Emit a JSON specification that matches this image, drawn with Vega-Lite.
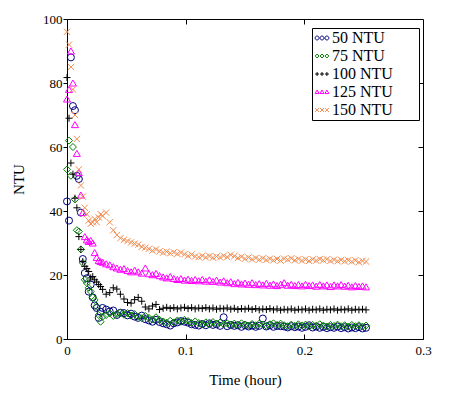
{
  "$schema": "https://vega.github.io/schema/vega-lite/v6.json",
  "width": 356,
  "height": 320,
  "autosize": {"type": "none"},
  "padding": {"left": 67, "top": 19, "right": 53, "bottom": 80},
  "background": "white",
  "data": {"values": [
    {"s":"50 NTU","t":0,"v":43},{"s":"50 NTU","t":0.0017,"v":37},{"s":"50 NTU","t":0.0033,"v":88},{"s":"50 NTU","t":0.005,"v":72.8},{"s":"50 NTU","t":0.0067,"v":71.5},{"s":"50 NTU","t":0.0083,"v":51},{"s":"50 NTU","t":0.01,"v":50},{"s":"50 NTU","t":0.0117,"v":39.5},{"s":"50 NTU","t":0.0133,"v":25},{"s":"50 NTU","t":0.015,"v":20.6},{"s":"50 NTU","t":0.0167,"v":19},{"s":"50 NTU","t":0.0183,"v":14.8},{"s":"50 NTU","t":0.02,"v":17},{"s":"50 NTU","t":0.0217,"v":13},{"s":"50 NTU","t":0.0233,"v":10.5},{"s":"50 NTU","t":0.025,"v":9.7},{"s":"50 NTU","t":0.0267,"v":6.6},{"s":"50 NTU","t":0.0283,"v":8.5},{"s":"50 NTU","t":0.03,"v":9.7},
    {"s":"50 NTU","t":0.033,"v":9.2},{"s":"50 NTU","t":0.036,"v":8.6},{"s":"50 NTU","t":0.039,"v":8.9},{"s":"50 NTU","t":0.042,"v":7.5},{"s":"50 NTU","t":0.045,"v":8.2},{"s":"50 NTU","t":0.048,"v":8.1},{"s":"50 NTU","t":0.051,"v":7.4},{"s":"50 NTU","t":0.054,"v":7.9},{"s":"50 NTU","t":0.057,"v":7},{"s":"50 NTU","t":0.06,"v":6.6},{"s":"50 NTU","t":0.063,"v":7.3},{"s":"50 NTU","t":0.066,"v":6.2},{"s":"50 NTU","t":0.069,"v":5.8},{"s":"50 NTU","t":0.072,"v":5.4},{"s":"50 NTU","t":0.075,"v":6},{"s":"50 NTU","t":0.078,"v":5.3},{"s":"50 NTU","t":0.081,"v":4.9},{"s":"50 NTU","t":0.084,"v":4.6},{"s":"50 NTU","t":0.087,"v":4.2},{"s":"50 NTU","t":0.09,"v":4.9},{"s":"50 NTU","t":0.093,"v":5.2},{"s":"50 NTU","t":0.096,"v":5.6},{"s":"50 NTU","t":0.099,"v":5.4},{"s":"50 NTU","t":0.102,"v":5.1},{"s":"50 NTU","t":0.105,"v":4.6},{"s":"50 NTU","t":0.108,"v":4.4},{"s":"50 NTU","t":0.111,"v":4.2},{"s":"50 NTU","t":0.114,"v":4.7},{"s":"50 NTU","t":0.117,"v":4.3},{"s":"50 NTU","t":0.12,"v":4.9},{"s":"50 NTU","t":0.123,"v":4.4},{"s":"50 NTU","t":0.126,"v":4.6},{"s":"50 NTU","t":0.129,"v":4.1},{"s":"50 NTU","t":0.132,"v":6.8},{"s":"50 NTU","t":0.135,"v":4},{"s":"50 NTU","t":0.138,"v":4.4},{"s":"50 NTU","t":0.141,"v":4.1},{"s":"50 NTU","t":0.144,"v":4.3},{"s":"50 NTU","t":0.147,"v":3.8},{"s":"50 NTU","t":0.15,"v":4.3},{"s":"50 NTU","t":0.153,"v":3.9},{"s":"50 NTU","t":0.156,"v":4.2},{"s":"50 NTU","t":0.159,"v":3.8},{"s":"50 NTU","t":0.162,"v":4.1},{"s":"50 NTU","t":0.165,"v":6.4},{"s":"50 NTU","t":0.168,"v":3.9},{"s":"50 NTU","t":0.171,"v":4.3},{"s":"50 NTU","t":0.174,"v":3.8},{"s":"50 NTU","t":0.177,"v":4.1},{"s":"50 NTU","t":0.18,"v":4},{"s":"50 NTU","t":0.183,"v":3.9},{"s":"50 NTU","t":0.186,"v":3.6},{"s":"50 NTU","t":0.189,"v":4},{"s":"50 NTU","t":0.192,"v":3.7},{"s":"50 NTU","t":0.195,"v":3.9},{"s":"50 NTU","t":0.198,"v":3.5},{"s":"50 NTU","t":0.201,"v":3.8},{"s":"50 NTU","t":0.204,"v":4.3},{"s":"50 NTU","t":0.207,"v":3.6},{"s":"50 NTU","t":0.21,"v":3.9},{"s":"50 NTU","t":0.213,"v":3.5},{"s":"50 NTU","t":0.216,"v":3.8},{"s":"50 NTU","t":0.219,"v":3.4},{"s":"50 NTU","t":0.222,"v":3.7},{"s":"50 NTU","t":0.225,"v":3.5},{"s":"50 NTU","t":0.228,"v":3.9},{"s":"50 NTU","t":0.231,"v":3.4},{"s":"50 NTU","t":0.234,"v":3.7},{"s":"50 NTU","t":0.237,"v":3.3},{"s":"50 NTU","t":0.24,"v":3.6},{"s":"50 NTU","t":0.243,"v":3.4},{"s":"50 NTU","t":0.246,"v":3.7},{"s":"50 NTU","t":0.249,"v":3.3},{"s":"50 NTU","t":0.252,"v":3.5},
    {"s":"75 NTU","t":0,"v":53},{"s":"75 NTU","t":0.0017,"v":62},{"s":"75 NTU","t":0.0033,"v":51},{"s":"75 NTU","t":0.005,"v":60},{"s":"75 NTU","t":0.0067,"v":43.6},{"s":"75 NTU","t":0.0083,"v":34},{"s":"75 NTU","t":0.01,"v":33.6},{"s":"75 NTU","t":0.0117,"v":28},{"s":"75 NTU","t":0.0133,"v":23.8},{"s":"75 NTU","t":0.015,"v":18.5},{"s":"75 NTU","t":0.0167,"v":17.5},{"s":"75 NTU","t":0.0183,"v":16},{"s":"75 NTU","t":0.02,"v":14.8},{"s":"75 NTU","t":0.0217,"v":13},{"s":"75 NTU","t":0.0233,"v":12.2},{"s":"75 NTU","t":0.025,"v":10.1},{"s":"75 NTU","t":0.0267,"v":7.5},{"s":"75 NTU","t":0.0283,"v":5.4},{"s":"75 NTU","t":0.03,"v":7},
    {"s":"75 NTU","t":0.033,"v":7.5},{"s":"75 NTU","t":0.036,"v":8},{"s":"75 NTU","t":0.039,"v":7.2},{"s":"75 NTU","t":0.042,"v":7.8},{"s":"75 NTU","t":0.045,"v":8.3},{"s":"75 NTU","t":0.048,"v":7.6},{"s":"75 NTU","t":0.051,"v":8.1},{"s":"75 NTU","t":0.054,"v":7.3},{"s":"75 NTU","t":0.057,"v":7.8},{"s":"75 NTU","t":0.06,"v":7},{"s":"75 NTU","t":0.063,"v":6.5},{"s":"75 NTU","t":0.066,"v":7.2},{"s":"75 NTU","t":0.069,"v":6.6},{"s":"75 NTU","t":0.072,"v":6.1},{"s":"75 NTU","t":0.075,"v":6.8},{"s":"75 NTU","t":0.078,"v":6},{"s":"75 NTU","t":0.081,"v":5.5},{"s":"75 NTU","t":0.084,"v":5.1},{"s":"75 NTU","t":0.087,"v":5.7},{"s":"75 NTU","t":0.09,"v":5.2},{"s":"75 NTU","t":0.093,"v":5.8},{"s":"75 NTU","t":0.096,"v":5.4},{"s":"75 NTU","t":0.099,"v":6},{"s":"75 NTU","t":0.102,"v":5.6},{"s":"75 NTU","t":0.105,"v":5},{"s":"75 NTU","t":0.108,"v":5.5},{"s":"75 NTU","t":0.111,"v":5},{"s":"75 NTU","t":0.114,"v":4.6},{"s":"75 NTU","t":0.117,"v":5.2},{"s":"75 NTU","t":0.12,"v":4.7},{"s":"75 NTU","t":0.123,"v":5.3},{"s":"75 NTU","t":0.126,"v":4.8},{"s":"75 NTU","t":0.129,"v":5.2},{"s":"75 NTU","t":0.132,"v":4.6},{"s":"75 NTU","t":0.135,"v":4.9},{"s":"75 NTU","t":0.138,"v":4.4},{"s":"75 NTU","t":0.141,"v":4.8},{"s":"75 NTU","t":0.144,"v":4.4},{"s":"75 NTU","t":0.147,"v":4.9},{"s":"75 NTU","t":0.15,"v":4.5},{"s":"75 NTU","t":0.153,"v":4.2},{"s":"75 NTU","t":0.156,"v":4.7},{"s":"75 NTU","t":0.159,"v":4.3},{"s":"75 NTU","t":0.162,"v":4.8},{"s":"75 NTU","t":0.165,"v":4.5},{"s":"75 NTU","t":0.168,"v":4.1},{"s":"75 NTU","t":0.171,"v":4.6},{"s":"75 NTU","t":0.174,"v":4.9},{"s":"75 NTU","t":0.177,"v":4.4},{"s":"75 NTU","t":0.18,"v":4.8},{"s":"75 NTU","t":0.183,"v":4.3},{"s":"75 NTU","t":0.186,"v":4},{"s":"75 NTU","t":0.189,"v":4.5},{"s":"75 NTU","t":0.192,"v":4.1},{"s":"75 NTU","t":0.195,"v":4.6},{"s":"75 NTU","t":0.198,"v":4.2},{"s":"75 NTU","t":0.201,"v":4.5},{"s":"75 NTU","t":0.204,"v":4},{"s":"75 NTU","t":0.207,"v":4.4},{"s":"75 NTU","t":0.21,"v":4.1},{"s":"75 NTU","t":0.213,"v":4.6},{"s":"75 NTU","t":0.216,"v":4.2},{"s":"75 NTU","t":0.219,"v":3.9},{"s":"75 NTU","t":0.222,"v":4.4},{"s":"75 NTU","t":0.225,"v":4.1},{"s":"75 NTU","t":0.228,"v":4.5},{"s":"75 NTU","t":0.231,"v":4},{"s":"75 NTU","t":0.234,"v":4.3},{"s":"75 NTU","t":0.237,"v":3.9},{"s":"75 NTU","t":0.24,"v":4.4},{"s":"75 NTU","t":0.243,"v":4},{"s":"75 NTU","t":0.246,"v":4.3},{"s":"75 NTU","t":0.249,"v":3.9},{"s":"75 NTU","t":0.252,"v":4.2},
    {"s":"100 NTU","t":0,"v":81.7},{"s":"100 NTU","t":0.0017,"v":69},{"s":"100 NTU","t":0.0033,"v":55},{"s":"100 NTU","t":0.005,"v":51.5},{"s":"100 NTU","t":0.0067,"v":44},{"s":"100 NTU","t":0.0083,"v":41},{"s":"100 NTU","t":0.01,"v":32},{"s":"100 NTU","t":0.0117,"v":28},{"s":"100 NTU","t":0.0133,"v":24.2},{"s":"100 NTU","t":0.015,"v":22.7},{"s":"100 NTU","t":0.0167,"v":22},{"s":"100 NTU","t":0.0183,"v":21.1},{"s":"100 NTU","t":0.02,"v":19.1},{"s":"100 NTU","t":0.0217,"v":19.5},{"s":"100 NTU","t":0.0233,"v":18.5},{"s":"100 NTU","t":0.025,"v":17.8},{"s":"100 NTU","t":0.0267,"v":17},{"s":"100 NTU","t":0.0283,"v":16.4},{"s":"100 NTU","t":0.03,"v":15.5},
    {"s":"100 NTU","t":0.033,"v":14},{"s":"100 NTU","t":0.036,"v":14.5},{"s":"100 NTU","t":0.039,"v":16},{"s":"100 NTU","t":0.042,"v":15.6},{"s":"100 NTU","t":0.045,"v":14},{"s":"100 NTU","t":0.048,"v":12.5},{"s":"100 NTU","t":0.051,"v":11.4},{"s":"100 NTU","t":0.054,"v":11.2},{"s":"100 NTU","t":0.057,"v":12.3},{"s":"100 NTU","t":0.06,"v":13},{"s":"100 NTU","t":0.063,"v":11.8},{"s":"100 NTU","t":0.066,"v":10},{"s":"100 NTU","t":0.069,"v":9.4},{"s":"100 NTU","t":0.072,"v":10.3},{"s":"100 NTU","t":0.075,"v":10.8},{"s":"100 NTU","t":0.078,"v":9.2},{"s":"100 NTU","t":0.081,"v":9.6},{"s":"100 NTU","t":0.084,"v":9.9},{"s":"100 NTU","t":0.087,"v":9.5},{"s":"100 NTU","t":0.09,"v":9.8},{"s":"100 NTU","t":0.093,"v":9.4},{"s":"100 NTU","t":0.096,"v":9.7},{"s":"100 NTU","t":0.099,"v":9.9},{"s":"100 NTU","t":0.102,"v":9.5},{"s":"100 NTU","t":0.105,"v":9.8},{"s":"100 NTU","t":0.108,"v":9.4},{"s":"100 NTU","t":0.111,"v":9.7},{"s":"100 NTU","t":0.114,"v":9.5},{"s":"100 NTU","t":0.117,"v":9.8},{"s":"100 NTU","t":0.12,"v":9.4},{"s":"100 NTU","t":0.123,"v":9.7},{"s":"100 NTU","t":0.126,"v":9.3},{"s":"100 NTU","t":0.129,"v":9.6},{"s":"100 NTU","t":0.132,"v":9.4},{"s":"100 NTU","t":0.135,"v":9.7},{"s":"100 NTU","t":0.138,"v":9.3},{"s":"100 NTU","t":0.141,"v":9.6},{"s":"100 NTU","t":0.144,"v":9.2},{"s":"100 NTU","t":0.147,"v":9.5},{"s":"100 NTU","t":0.15,"v":9.3},{"s":"100 NTU","t":0.153,"v":9.6},{"s":"100 NTU","t":0.156,"v":9.2},{"s":"100 NTU","t":0.159,"v":9.5},{"s":"100 NTU","t":0.162,"v":9.1},{"s":"100 NTU","t":0.165,"v":9.4},{"s":"100 NTU","t":0.168,"v":9.2},{"s":"100 NTU","t":0.171,"v":9.5},{"s":"100 NTU","t":0.174,"v":9.1},{"s":"100 NTU","t":0.177,"v":9.4},{"s":"100 NTU","t":0.18,"v":9},{"s":"100 NTU","t":0.183,"v":9.3},{"s":"100 NTU","t":0.186,"v":9.1},{"s":"100 NTU","t":0.189,"v":9.4},{"s":"100 NTU","t":0.192,"v":9},{"s":"100 NTU","t":0.195,"v":9.3},{"s":"100 NTU","t":0.198,"v":9.1},{"s":"100 NTU","t":0.201,"v":9.4},{"s":"100 NTU","t":0.204,"v":9},{"s":"100 NTU","t":0.207,"v":9.3},{"s":"100 NTU","t":0.21,"v":9.1},{"s":"100 NTU","t":0.213,"v":9.4},{"s":"100 NTU","t":0.216,"v":9},{"s":"100 NTU","t":0.219,"v":9.3},{"s":"100 NTU","t":0.222,"v":9.1},{"s":"100 NTU","t":0.225,"v":9.4},{"s":"100 NTU","t":0.228,"v":9},{"s":"100 NTU","t":0.231,"v":9.3},{"s":"100 NTU","t":0.234,"v":9.1},{"s":"100 NTU","t":0.237,"v":9.4},{"s":"100 NTU","t":0.24,"v":9},{"s":"100 NTU","t":0.243,"v":9.3},{"s":"100 NTU","t":0.246,"v":9.1},{"s":"100 NTU","t":0.249,"v":9.3},{"s":"100 NTU","t":0.252,"v":9.1},
    {"s":"125 NTU","t":0,"v":75},{"s":"125 NTU","t":0.0017,"v":78},{"s":"125 NTU","t":0.0033,"v":90},{"s":"125 NTU","t":0.005,"v":80},{"s":"125 NTU","t":0.0067,"v":67},{"s":"125 NTU","t":0.0083,"v":58},{"s":"125 NTU","t":0.01,"v":52},{"s":"125 NTU","t":0.0117,"v":45},{"s":"125 NTU","t":0.0133,"v":39.5},{"s":"125 NTU","t":0.015,"v":32},{"s":"125 NTU","t":0.0167,"v":31},{"s":"125 NTU","t":0.0183,"v":30.5},{"s":"125 NTU","t":0.02,"v":30.8},{"s":"125 NTU","t":0.0217,"v":30},{"s":"125 NTU","t":0.0233,"v":27},{"s":"125 NTU","t":0.025,"v":25.5},{"s":"125 NTU","t":0.0267,"v":24.5},{"s":"125 NTU","t":0.0283,"v":24.2},{"s":"125 NTU","t":0.03,"v":24},
    {"s":"125 NTU","t":0.033,"v":23.5},{"s":"125 NTU","t":0.036,"v":23.2},{"s":"125 NTU","t":0.039,"v":22.6},{"s":"125 NTU","t":0.042,"v":22.2},{"s":"125 NTU","t":0.045,"v":21.8},{"s":"125 NTU","t":0.048,"v":22},{"s":"125 NTU","t":0.051,"v":21.4},{"s":"125 NTU","t":0.054,"v":21},{"s":"125 NTU","t":0.057,"v":21.5},{"s":"125 NTU","t":0.06,"v":21},{"s":"125 NTU","t":0.063,"v":20.6},{"s":"125 NTU","t":0.066,"v":22.2},{"s":"125 NTU","t":0.069,"v":20.4},{"s":"125 NTU","t":0.072,"v":20.1},{"s":"125 NTU","t":0.075,"v":20.5},{"s":"125 NTU","t":0.078,"v":19.8},{"s":"125 NTU","t":0.081,"v":19.4},{"s":"125 NTU","t":0.084,"v":19.1},{"s":"125 NTU","t":0.087,"v":19.5},{"s":"125 NTU","t":0.09,"v":18.9},{"s":"125 NTU","t":0.093,"v":18.6},{"s":"125 NTU","t":0.096,"v":18.9},{"s":"125 NTU","t":0.099,"v":18.4},{"s":"125 NTU","t":0.102,"v":18.7},{"s":"125 NTU","t":0.105,"v":18.3},{"s":"125 NTU","t":0.108,"v":18.6},{"s":"125 NTU","t":0.111,"v":18.2},{"s":"125 NTU","t":0.114,"v":18.6},{"s":"125 NTU","t":0.117,"v":18.1},{"s":"125 NTU","t":0.12,"v":18.5},{"s":"125 NTU","t":0.123,"v":18},{"s":"125 NTU","t":0.126,"v":18.4},{"s":"125 NTU","t":0.129,"v":17.8},{"s":"125 NTU","t":0.132,"v":18.2},{"s":"125 NTU","t":0.135,"v":17.6},{"s":"125 NTU","t":0.138,"v":17.9},{"s":"125 NTU","t":0.141,"v":17.3},{"s":"125 NTU","t":0.144,"v":17.7},{"s":"125 NTU","t":0.147,"v":17.2},{"s":"125 NTU","t":0.15,"v":17.5},{"s":"125 NTU","t":0.153,"v":17.1},{"s":"125 NTU","t":0.156,"v":17.6},{"s":"125 NTU","t":0.159,"v":17},{"s":"125 NTU","t":0.162,"v":17.3},{"s":"125 NTU","t":0.165,"v":16.9},{"s":"125 NTU","t":0.168,"v":17.4},{"s":"125 NTU","t":0.171,"v":16.8},{"s":"125 NTU","t":0.174,"v":17.2},{"s":"125 NTU","t":0.177,"v":16.7},{"s":"125 NTU","t":0.18,"v":17.1},{"s":"125 NTU","t":0.183,"v":17.6},{"s":"125 NTU","t":0.186,"v":16.8},{"s":"125 NTU","t":0.189,"v":17.1},{"s":"125 NTU","t":0.192,"v":16.7},{"s":"125 NTU","t":0.195,"v":17},{"s":"125 NTU","t":0.198,"v":16.6},{"s":"125 NTU","t":0.201,"v":17.1},{"s":"125 NTU","t":0.204,"v":16.7},{"s":"125 NTU","t":0.207,"v":16.9},{"s":"125 NTU","t":0.21,"v":16.5},{"s":"125 NTU","t":0.213,"v":17},{"s":"125 NTU","t":0.216,"v":16.6},{"s":"125 NTU","t":0.219,"v":16.9},{"s":"125 NTU","t":0.222,"v":16.4},{"s":"125 NTU","t":0.225,"v":16.9},{"s":"125 NTU","t":0.228,"v":16.6},{"s":"125 NTU","t":0.231,"v":17},{"s":"125 NTU","t":0.234,"v":16.5},{"s":"125 NTU","t":0.237,"v":16.8},{"s":"125 NTU","t":0.24,"v":16.3},{"s":"125 NTU","t":0.243,"v":16.7},{"s":"125 NTU","t":0.246,"v":16.4},{"s":"125 NTU","t":0.249,"v":16.6},{"s":"125 NTU","t":0.252,"v":16.3},
    {"s":"150 NTU","t":0,"v":96},{"s":"150 NTU","t":0.0017,"v":92},{"s":"150 NTU","t":0.0033,"v":85},{"s":"150 NTU","t":0.005,"v":78},{"s":"150 NTU","t":0.0067,"v":70},{"s":"150 NTU","t":0.0083,"v":62.5},{"s":"150 NTU","t":0.01,"v":53},{"s":"150 NTU","t":0.0117,"v":48},{"s":"150 NTU","t":0.0133,"v":44.5},{"s":"150 NTU","t":0.015,"v":41},{"s":"150 NTU","t":0.0167,"v":39},{"s":"150 NTU","t":0.0183,"v":37},{"s":"150 NTU","t":0.02,"v":36},{"s":"150 NTU","t":0.0217,"v":36.5},{"s":"150 NTU","t":0.0233,"v":37.5},{"s":"150 NTU","t":0.025,"v":36.5},{"s":"150 NTU","t":0.0267,"v":38},{"s":"150 NTU","t":0.0283,"v":39},{"s":"150 NTU","t":0.03,"v":38.5},
    {"s":"150 NTU","t":0.033,"v":39.5},{"s":"150 NTU","t":0.036,"v":36.5},{"s":"150 NTU","t":0.039,"v":34},{"s":"150 NTU","t":0.042,"v":32.5},{"s":"150 NTU","t":0.045,"v":31.5},{"s":"150 NTU","t":0.048,"v":31},{"s":"150 NTU","t":0.051,"v":30.6},{"s":"150 NTU","t":0.054,"v":30.2},{"s":"150 NTU","t":0.057,"v":29.8},{"s":"150 NTU","t":0.06,"v":29.5},{"s":"150 NTU","t":0.063,"v":28.8},{"s":"150 NTU","t":0.066,"v":28.5},{"s":"150 NTU","t":0.069,"v":28.2},{"s":"150 NTU","t":0.072,"v":27.6},{"s":"150 NTU","t":0.075,"v":28},{"s":"150 NTU","t":0.078,"v":27.4},{"s":"150 NTU","t":0.081,"v":27},{"s":"150 NTU","t":0.084,"v":27.3},{"s":"150 NTU","t":0.087,"v":26.8},{"s":"150 NTU","t":0.09,"v":27.1},{"s":"150 NTU","t":0.093,"v":26.6},{"s":"150 NTU","t":0.096,"v":27},{"s":"150 NTU","t":0.099,"v":26.5},{"s":"150 NTU","t":0.102,"v":26},{"s":"150 NTU","t":0.105,"v":26.4},{"s":"150 NTU","t":0.108,"v":25.8},{"s":"150 NTU","t":0.111,"v":25.6},{"s":"150 NTU","t":0.114,"v":26},{"s":"150 NTU","t":0.117,"v":25.5},{"s":"150 NTU","t":0.12,"v":25.9},{"s":"150 NTU","t":0.123,"v":25.4},{"s":"150 NTU","t":0.126,"v":25.8},{"s":"150 NTU","t":0.129,"v":25.5},{"s":"150 NTU","t":0.132,"v":26},{"s":"150 NTU","t":0.135,"v":25.6},{"s":"150 NTU","t":0.138,"v":26.3},{"s":"150 NTU","t":0.141,"v":25.9},{"s":"150 NTU","t":0.144,"v":25.3},{"s":"150 NTU","t":0.147,"v":25.7},{"s":"150 NTU","t":0.15,"v":25.1},{"s":"150 NTU","t":0.153,"v":25.5},{"s":"150 NTU","t":0.156,"v":24.9},{"s":"150 NTU","t":0.159,"v":25.3},{"s":"150 NTU","t":0.162,"v":24.8},{"s":"150 NTU","t":0.165,"v":25.2},{"s":"150 NTU","t":0.168,"v":24.7},{"s":"150 NTU","t":0.171,"v":25.1},{"s":"150 NTU","t":0.174,"v":24.6},{"s":"150 NTU","t":0.177,"v":25},{"s":"150 NTU","t":0.18,"v":24.5},{"s":"150 NTU","t":0.183,"v":25.1},{"s":"150 NTU","t":0.186,"v":24.8},{"s":"150 NTU","t":0.189,"v":25.2},{"s":"150 NTU","t":0.192,"v":24.6},{"s":"150 NTU","t":0.195,"v":25},{"s":"150 NTU","t":0.198,"v":24.5},{"s":"150 NTU","t":0.201,"v":24.9},{"s":"150 NTU","t":0.204,"v":24.4},{"s":"150 NTU","t":0.207,"v":24.9},{"s":"150 NTU","t":0.21,"v":24.5},{"s":"150 NTU","t":0.213,"v":25},{"s":"150 NTU","t":0.216,"v":24.6},{"s":"150 NTU","t":0.219,"v":24.9},{"s":"150 NTU","t":0.222,"v":24.4},{"s":"150 NTU","t":0.225,"v":24.8},{"s":"150 NTU","t":0.228,"v":24.3},{"s":"150 NTU","t":0.231,"v":24.7},{"s":"150 NTU","t":0.234,"v":24.3},{"s":"150 NTU","t":0.237,"v":24.6},{"s":"150 NTU","t":0.24,"v":24.2},{"s":"150 NTU","t":0.243,"v":24.6},{"s":"150 NTU","t":0.246,"v":24},{"s":"150 NTU","t":0.249,"v":24.4},{"s":"150 NTU","t":0.252,"v":24.2}
  ]},
  "layer": [
    {
      "mark": {"type": "point", "filled": false, "size": 49, "strokeWidth": 1, "opacity": 1},
      "encoding": {
        "x": {
          "field": "t", "type": "quantitative",
          "scale": {"domain": [0, 0.3], "nice": false},
          "axis": {"orient": "bottom", "values": [0, 0.1, 0.2, 0.3], "format": "~g", "tickSize": -5, "labelPadding": 10, "title": "Time (hour)", "titlePadding": 15}
        },
        "y": {
          "field": "v", "type": "quantitative",
          "scale": {"domain": [0, 100], "nice": false},
          "axis": {"orient": "left", "values": [0, 20, 40, 60, 80, 100], "tickSize": 4, "labelPadding": 1, "title": "NTU", "titlePadding": 16}
        },
        "color": {
          "field": "s", "type": "nominal",
          "scale": {"domain": ["50 NTU", "75 NTU", "100 NTU", "125 NTU", "150 NTU"], "range": ["#000080", "#008000", "#000000", "#FF00FF", "#F28C50"]},
          "legend": null
        },
        "shape": {
          "field": "s", "type": "nominal",
          "scale": {"domain": ["50 NTU", "75 NTU", "100 NTU", "125 NTU", "150 NTU"], "range": ["circle", "diamond", "M-1,0H1M0,-1V1", "triangle-up", "M-0.9,-0.9L0.9,0.9M-0.9,0.9L0.9,-0.9"]},
          "legend": null
        }
      }
    },
    {
      "transform": [{"filter": "false"}],
      "mark": {"type": "point", "filled": false, "strokeWidth": 1, "opacity": 1},
      "encoding": {
        "x": {
          "field": "t", "type": "quantitative",
          "axis": {"orient": "top", "values": [0.1, 0.2], "labels": false, "domain": false, "tickSize": -5, "title": null}
        },
        "y": {
          "field": "v", "type": "quantitative",
          "axis": {"orient": "right", "values": [20, 40, 60, 80], "labels": false, "domain": false, "tickSize": -5, "title": null}
        },
        "color": {
          "field": "s", "type": "nominal",
          "scale": {"domain": ["50 NTU", "75 NTU", "100 NTU", "125 NTU", "150 NTU"], "range": ["#000080", "#008000", "#000000", "#FF00FF", "#F28C50"]},
          "legend": {"orient": "none", "legendX": 245, "legendY": 9, "title": null, "strokeColor": "black", "fillColor": "white", "padding": 2, "rowPadding": 2, "symbolSize": 196, "symbolStrokeWidth": 1, "labelFont": "Liberation Serif", "labelFontSize": 16, "labelColor": "black", "labelOffset": 2, "labelExpr": "datum.label + '\u2800\u2800'"}
        },
        "shape": {
          "field": "s", "type": "nominal",
          "scale": {"domain": ["50 NTU", "75 NTU", "100 NTU", "125 NTU", "150 NTU"], "range": [
            "M-0.98,0a0.28,0.28 0 1,0 0.56,0a0.28,0.28 0 1,0 -0.56,0M-0.28,0a0.28,0.28 0 1,0 0.56,0a0.28,0.28 0 1,0 -0.56,0M0.42,0a0.28,0.28 0 1,0 0.56,0a0.28,0.28 0 1,0 -0.56,0",
            "M-0.7,-0.28L-0.42,0L-0.7,0.28L-0.98,0ZM0,-0.28L0.28,0L0,0.28L-0.28,0ZM0.7,-0.28L0.98,0L0.7,0.28L0.42,0Z",
            "M-0.98,0H-0.42M-0.7,-0.28V0.28M-0.28,0H0.28M0,-0.28V0.28M0.42,0H0.98M0.7,-0.28V0.28",
            "M-0.7,-0.28L-0.42,0.22L-0.98,0.22ZM0,-0.28L0.28,0.22L-0.28,0.22ZM0.7,-0.28L0.98,0.22L0.42,0.22Z",
            "M-0.98,-0.28L-0.42,0.28M-0.98,0.28L-0.42,-0.28M-0.28,-0.28L0.28,0.28M-0.28,0.28L0.28,-0.28M0.42,-0.28L0.98,0.28M0.42,0.28L0.98,-0.28"
          ]},
          "legend": {"orient": "none", "legendX": 245, "legendY": 9, "title": null, "strokeColor": "black", "fillColor": "white", "padding": 2, "rowPadding": 2, "symbolSize": 196, "symbolStrokeWidth": 1, "labelFont": "Liberation Serif", "labelFontSize": 16, "labelColor": "black", "labelOffset": 2, "labelExpr": "datum.label + '\u2800\u2800'"}
        }
      }
    }
  ],
  "resolve": {
    "scale": {"shape": "independent"},
    "axis": {"x": "independent", "y": "independent"},
    "legend": {"color": "independent", "shape": "independent"}
  },
  "config": {
    "view": {"stroke": "black", "strokeWidth": 1},
    "font": "Liberation Serif",
    "axis": {
      "grid": false,
      "domainColor": "black",
      "domainWidth": 1,
      "tickColor": "black",
      "tickWidth": 1,
      "labelColor": "black",
      "titleColor": "black",
      "labelFont": "Liberation Serif",
      "titleFont": "Liberation Serif",
      "labelFontSize": 13,
      "titleFontSize": 15,
      "titleFontWeight": "normal",
      "labelFlush": false,
      "labelOverlap": false
    }
  }
}
